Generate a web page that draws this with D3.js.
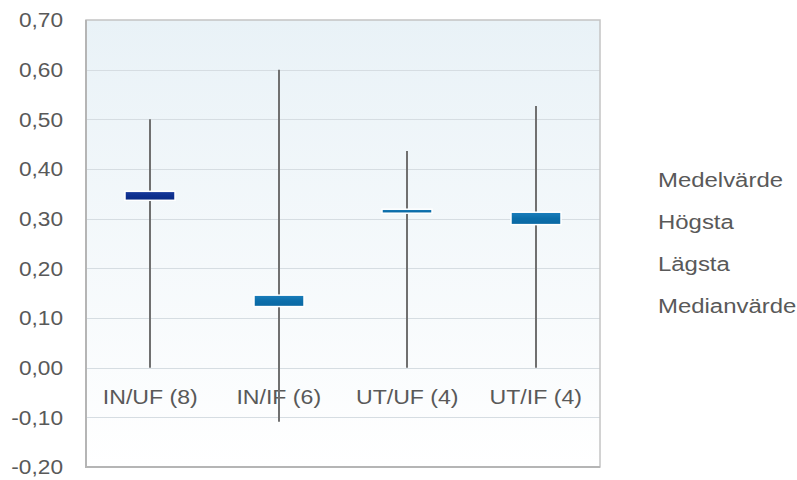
<!DOCTYPE html>
<html>
<head>
<meta charset="utf-8">
<script src="https://cdn.jsdelivr.net/npm/d3@7"></script>
<style>
  html, body { margin: 0; padding: 0; background: #ffffff; }
  svg { display: block; font-family: "Liberation Sans", Arial, sans-serif; }
</style>
</head>
<body>
<svg id="chart" width="797" height="480"></svg>
<script>
// ---- data ----
const categories = ["IN/UF (8)", "IN/IF (6)", "UT/UF (4)", "UT/IF (4)"];
const meanValues   = [0.355, 0.123, 0.311, 0.288]; // Medelvärde
const highValues   = [0.50, 0.60, 0.436, 0.527];   // Högsta
const lowValues    = [0.00, -0.109, 0.00, 0.00];   // Lägsta
const medianValues = [0.337, 0.146, 0.319, 0.313]; // Medianvärde
const legendLabels = ["Medelvärde", "Högsta", "Lägsta", "Medianvärde"];
const yTicks = [-0.2, -0.1, 0, 0.1, 0.2, 0.3, 0.4, 0.5, 0.6, 0.7];

const svg = d3.select("#chart");
const plot = { left: 86, right: 600, top: 20, bottom: 467 };
const textColor = "#595959";

const x = d3.scaleBand().domain(categories).range([plot.left, plot.right]).padding(0);
const y = d3.scaleLinear().domain([-0.2, 0.7]).range([plot.bottom, plot.top]);

const defs = svg.append("defs");
const bg = defs.append("linearGradient").attr("id", "bg").attr("x1", 0).attr("y1", 0).attr("x2", 0).attr("y2", 1);
bg.append("stop").attr("offset", "0%").attr("stop-color", "#e9f2f7");
bg.append("stop").attr("offset", "100%").attr("stop-color", "#ffffff");

const gDown = defs.append("linearGradient").attr("id", "down").attr("x1", 0).attr("y1", 0).attr("x2", 0).attr("y2", 1);
gDown.append("stop").attr("offset", "0%").attr("stop-color", "#1a3a9c");
gDown.append("stop").attr("offset", "50%").attr("stop-color", "#0e2f8e");
gDown.append("stop").attr("offset", "100%").attr("stop-color", "#0c2a84");

const gUp = defs.append("linearGradient").attr("id", "up").attr("x1", 0).attr("y1", 0).attr("x2", 0).attr("y2", 1);
gUp.append("stop").attr("offset", "0%").attr("stop-color", "#1c7fbd");
gUp.append("stop").attr("offset", "50%").attr("stop-color", "#0c6eaa");
gUp.append("stop").attr("offset", "100%").attr("stop-color", "#0a68a3");

// background
svg.append("rect")
  .attr("x", plot.left).attr("y", plot.top)
  .attr("width", plot.right - plot.left).attr("height", plot.bottom - plot.top)
  .attr("fill", "url(#bg)");

// gridlines
svg.append("g")
  .selectAll("line").data(yTicks.slice(1, -1)).join("line")
  .attr("x1", plot.left).attr("x2", plot.right)
  .attr("y1", d => Math.round(y(d)) + 0.5).attr("y2", d => Math.round(y(d)) + 0.5)
  .attr("stroke", "#d6dde2").attr("stroke-width", 1.2);

// border
svg.append("rect")
  .attr("x", plot.left).attr("y", plot.top)
  .attr("width", plot.right - plot.left).attr("height", plot.bottom - plot.top)
  .attr("fill", "none").attr("stroke", "#c4c4c4").attr("stroke-width", 1.5);
svg.append("path")
  .attr("d", `M${plot.left},${plot.top} V${plot.bottom} H${plot.right}`)
  .attr("fill", "none").attr("stroke", "#b5b5b5").attr("stroke-width", 2);

// y axis labels
const yAxis = d3.axisLeft(y).tickValues(yTicks).tickSize(0).tickPadding(0)
  .tickFormat(d => d3.format(".2f")(d).replace(".", ",").replace("−", "-"));
const ya = svg.append("g").attr("transform", `translate(63,0)`).call(yAxis);
ya.select(".domain").remove();
ya.selectAll("text").attr("fill", textColor).attr("font-size", 21)
  .attr("font-family", "'Liberation Sans', Arial, sans-serif")
  .attr("x", 0).attr("transform", "scale(1.08,1)");

// category labels
const xAxis = d3.axisBottom(x).tickSize(0).tickPadding(0);
const xa = svg.append("g").attr("transform", `translate(0,${y(0)})`).call(xAxis);
xa.select(".domain").remove();
xa.selectAll("text").attr("fill", textColor).attr("font-size", 21)
  .attr("font-family", "'Liberation Sans', Arial, sans-serif")
  .attr("dy", null).attr("y", 36).attr("transform", "scale(1.1,1)");

// high-low lines
const idx = d3.range(categories.length);
const cx = i => Math.round(x(categories[i]) + x.bandwidth() / 2);
svg.append("g").selectAll("line").data(idx).join("line")
  .attr("x1", cx).attr("x2", cx)
  .attr("y1", i => y(highValues[i])).attr("y2", i => y(lowValues[i]))
  .attr("stroke", "#707070").attr("stroke-width", 2);

// up/down bars
const boxW = 50;
svg.append("g").selectAll("rect").data(idx).join("rect")
  .attr("x", i => cx(i) - boxW / 2)
  .attr("y", i => y(Math.max(meanValues[i], medianValues[i])))
  .attr("width", boxW)
  .attr("height", i => Math.abs(y(meanValues[i]) - y(medianValues[i])))
  .attr("fill", i => medianValues[i] < meanValues[i] ? "url(#down)" : "url(#up)")
  .attr("stroke", "#ffffff").attr("stroke-width", 1.5);

// legend
svg.append("g").selectAll("g").data(legendLabels).join("g")
  .attr("transform", (d, i) => `translate(658,${187 + i * 42}) scale(1.14,1)`)
  .append("text")
  .attr("fill", textColor).attr("font-size", 21)
  .text(d => d);
</script>
</body>
</html>
